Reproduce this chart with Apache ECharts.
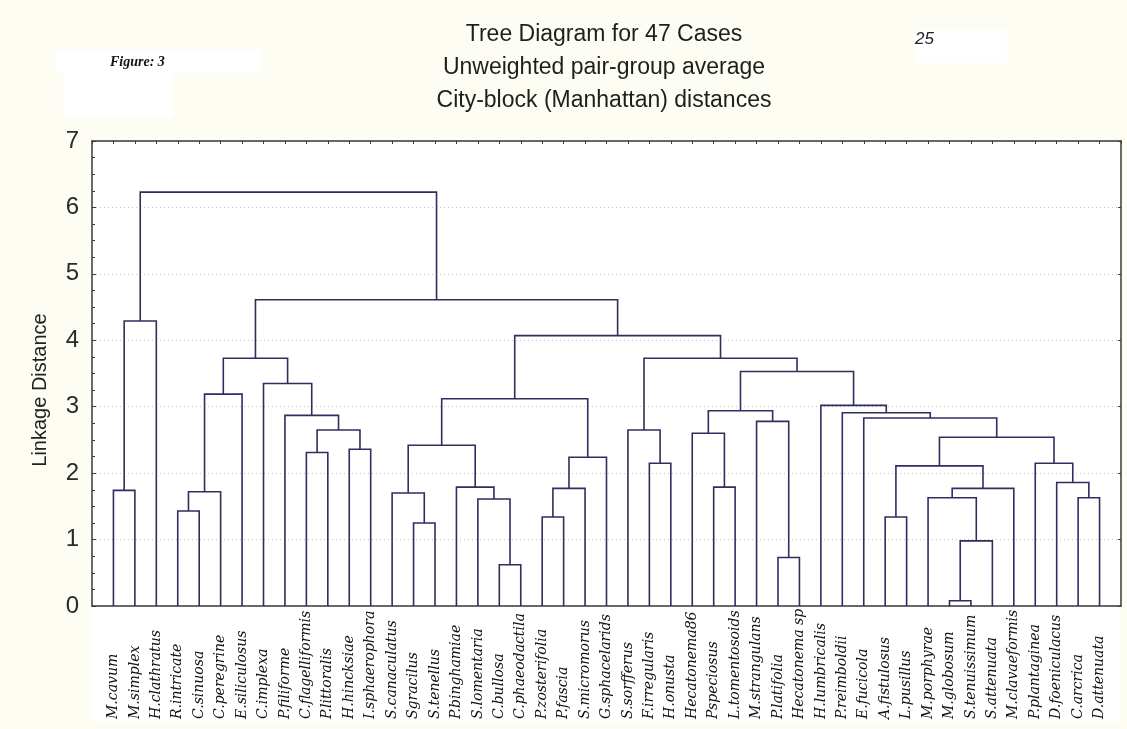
<!DOCTYPE html>
<html>
<head>
<meta charset="utf-8">
<script src="https://cdn.jsdelivr.net/npm/echarts@6/dist/echarts.min.js"></script>
<style>
html,body{margin:0;padding:0;background:#FDFDF4;}
#chart{width:1127px;height:729px;}
</style>
</head>
<body>
<div id="chart"></div>
<script>
const titleLines = ['Tree Diagram for 47 Cases', 'Unweighted pair-group average', 'City-block (Manhattan) distances'];
const yAxisTitle = 'Linkage Distance';
const leafNames = [
  'M.cavum','M.simplex','H.clathratus','R.intricate','C.sinuosa','C.peregrine','E.siliculosus',
  'C.implexa','P.filiforme','C.flagelliformis','P.littoralis','H.hincksiae','I.sphaerophora',
  'S.canaculatus','Sgracilus','S.tenellus','P.binghamiae','S.lomentaria','C.bullosa','C.phaeodactila',
  'P.zosterifolia','P.fascia','S.micromorus','G.sphacelarids','S.sorfferus','F.irregularis','H.onusta',
  'Hecatonema86','Pspeciosus','L.tomentosoids','M.strangulans','P.latifolia','Hecatonema sp',
  'H.lumbricalis','P.reimboldii','E.fucicola','A.fistulosus','L.pusillus','M.porphyrae','M.globosum',
  'S.tenuissimum','S.attenuata','M.clavaeformis','P.plantaginea','D.foeniculacus','C.arcrica','D.attenuata'
];
// merges: node ids 0..46 are leaves, 47+k is the cluster made by merge k
const mergeA = [39,18,31,47,14,20,36,3,17,38,45,13,54,0,52,56,16,28,44,53,25,43,61,9,11,58,66,27,70,24,30,35,8,34,74,33,72,59,7,81,84,76,83,60,87,90];
const mergeB = [40,19,32,41,15,21,37,4,48,50,46,51,5,1,22,42,55,29,57,62,26,65,23,10,12,63,68,64,71,67,49,73,75,78,77,80,69,6,79,82,85,86,88,2,89,91];
const mergeHeight = [0.08,0.62,0.73,0.98,1.25,1.34,1.34,1.43,1.61,1.63,1.63,1.70,1.72,1.74,1.77,1.77,1.79,1.79,1.86,2.11,2.15,2.15,2.24,2.31,2.36,2.42,2.54,2.60,2.65,2.65,2.78,2.83,2.87,2.91,2.94,3.02,3.12,3.19,3.35,3.53,3.73,3.73,4.07,4.29,4.61,6.23];

// build node positions (leaf i at x=i+1, cluster at midpoint of children)
const nodeX = leafNames.map((_, i) => i + 1);
const nodeH = leafNames.map(() => 0);
const links = [];
for (let k = 0; k < mergeA.length; k++) {
  const a = mergeA[k], b = mergeB[k], h = mergeHeight[k];
  links.push([nodeX[a], nodeH[a], nodeX[b], nodeH[b], h]);
  nodeX.push((nodeX[a] + nodeX[b]) / 2);
  nodeH.push(h);
}

const chart = echarts.init(document.getElementById('chart'), null, {renderer: 'canvas'});
const axisColor = '#3a3a3a';
const lineColor = '#2E2E60';

chart.setOption({
  backgroundColor: '#FDFDF4',
  animation: false,
  title: {
    text: titleLines.join('\n'),
    left: 599, top: 13, textAlign: 'center',
    textStyle: {fontFamily: 'Liberation Sans', fontSize: 23, fontWeight: 'normal', color: '#1e1e1e', lineHeight: 33}
  },
  graphic: [
    {type: 'rect', shape: {x: 92, y: 606, width: 1029, height: 116}, style: {fill: '#ffffff'}, silent: true, z: -10},
    {type: 'rect', shape: {x: 55, y: 50, width: 205, height: 22}, style: {fill: '#ffffff'}, silent: true},
    {type: 'rect', shape: {x: 63, y: 72, width: 110, height: 45}, style: {fill: '#ffffff'}, silent: true},
    {type: 'rect', shape: {x: 915, y: 30, width: 92, height: 33}, style: {fill: '#ffffff'}, silent: true},
    {type: 'text', x: 110, y: 62, style: {text: 'Figure: 3', font: 'italic bold 14px "Liberation Serif"', fill: '#111', textVerticalAlign: 'middle'}},
    {type: 'text', x: 915, y: 39, style: {text: '25', font: 'italic 17px "Liberation Sans"', fill: '#222', textVerticalAlign: 'middle'}},
    {type: 'text', x: 40, y: 390, rotation: Math.PI / 2,
     style: {text: yAxisTitle, font: '20px "Liberation Sans"', fill: '#222', textAlign: 'center', textVerticalAlign: 'middle'}}
  ],
  grid: {left: 92, right: 6, top: 141, bottom: 123, show: true, backgroundColor: '#ffffff', borderWidth: 0, outerBoundsMode: 'none'},
  xAxis: [{
    type: 'value', min: 0, max: 48, interval: 1, position: 'bottom',
    axisLine: {show: true, onZero: false, lineStyle: {color: axisColor, width: 1.5}},
    axisTick: {show: false},
    splitLine: {show: false},
    axisLabel: {
      rotate: 90, align: 'left', margin: 113, showMinLabel: true, showMaxLabel: true,
      fontFamily: 'DejaVu Serif', fontStyle: 'italic', fontSize: 14, color: '#111',
      formatter: v => (v >= 1 && v <= leafNames.length) ? leafNames[v - 1] : ''
    }
  }, {
    type: 'value', min: 0, max: 48, interval: 1, position: 'top',
    axisLine: {show: true, onZero: false, lineStyle: {color: axisColor, width: 1.5}},
    axisTick: {show: true, inside: true, length: 3, lineStyle: {color: axisColor}},
    axisLabel: {show: false}, splitLine: {show: false}
  }],
  yAxis: [{
    type: 'value', min: 0, max: 7, interval: 1, position: 'left',
    axisLine: {show: true, onZero: false, lineStyle: {color: axisColor, width: 1.5}},
    axisTick: {show: true, inside: true, length: 4, lineStyle: {color: axisColor}},
    minorTick: {show: true, splitNumber: 4, length: 3, lineStyle: {color: axisColor}},
    splitLine: {show: true, lineStyle: {color: '#c4c4c4', type: [1, 3], width: 1}},
    axisLabel: {fontFamily: 'Liberation Sans', fontSize: 24, color: '#2a2a2a', margin: 13}
  }, {
    type: 'value', min: 0, max: 7, interval: 1, position: 'right',
    axisLine: {show: true, onZero: false, lineStyle: {color: axisColor, width: 1.5}},
    axisTick: {show: true, inside: true, length: 3, lineStyle: {color: axisColor}},
    axisLabel: {show: false}, splitLine: {show: false}
  }],
  series: [{
    type: 'custom',
    xAxisIndex: 0, yAxisIndex: 0,
    data: links,
    encode: {x: [0, 2], y: [1, 3, 4]},
    clip: false,
    renderItem: function (params, api) {
      const xa = api.value(0), ya = api.value(1), xb = api.value(2), yb = api.value(3), h = api.value(4);
      const pts = [api.coord([xa, ya]), api.coord([xa, h]), api.coord([xb, h]), api.coord([xb, yb])];
      return {
        type: 'polyline',
        shape: {points: pts},
        style: {stroke: lineColor, lineWidth: 1.6, fill: null}
      };
    },
    z: 5
  }]
});
</script>
</body>
</html>
